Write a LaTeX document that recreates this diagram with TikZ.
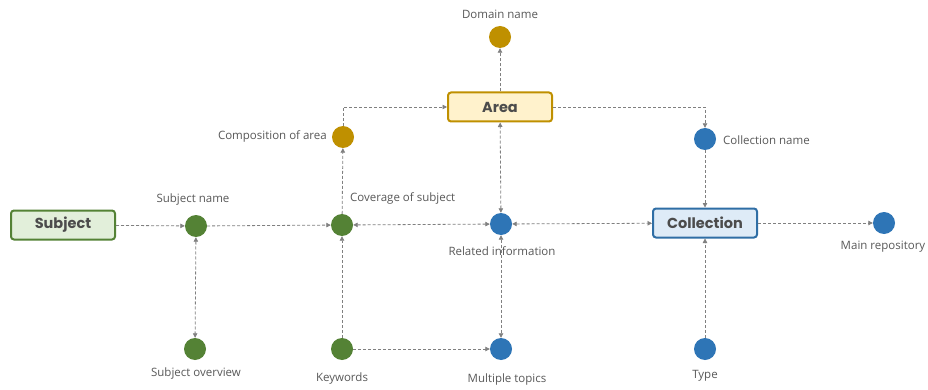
\documentclass[tikz,border=0pt]{standalone}
\usepackage{fontspec}
\setmainfont{Open Sans}
\newfontfamily\boxfont{Poppins}
\usetikzlibrary{arrows.meta}
\definecolor{lblgray}{HTML}{595959}
\definecolor{linegray}{HTML}{808080}
\definecolor{dgreen}{HTML}{548235}
\definecolor{lgreen}{HTML}{E2EFDA}
\definecolor{gold}{HTML}{BF9000}
\definecolor{lgold}{HTML}{FFF2CC}
\definecolor{dblue}{HTML}{2E75B6}
\definecolor{bblue}{HTML}{2F6EA5}
\definecolor{lblue}{HTML}{DEEBF7}
\tikzset{
  dot/.style={circle,minimum size=22pt,inner sep=0pt,draw=none},
  gdot/.style={dot,fill=dgreen},
  ydot/.style={dot,fill=gold},
  bdot/.style={dot,fill=dblue},
  lbl/.style={font=\fontsize{11.5}{13}\selectfont,text=lblgray,inner sep=0pt},
  bigbox/.style={rounded corners=3pt,line width=2pt,minimum height=29pt,minimum width=104pt,font=\boxfont\bfseries\fontsize{14.5}{16}\selectfont,text=black!70},
  conn/.style={draw=linegray,line width=0.8pt,dash pattern=on 3pt off 2pt,-{Triangle[length=4.5pt,width=4.5pt]}},
  conn2/.style={conn,{Triangle[length=4.5pt,width=4.5pt]}-{Triangle[length=4.5pt,width=4.5pt]}}
}
\begin{document}
\begin{tikzpicture}[x=1pt,y=-1pt]
\useasboundingbox[fill=white] (0,0) rectangle (928,390);
% boxes
\node[bigbox,draw=dgreen,fill=lgreen] (subject) at (63,225) {Subject};
\node[bigbox,draw=gold,fill=lgold] (area) at (500,107) {Area};
\node[bigbox,draw=bblue,fill=lblue] (collection) at (705,223) {Collection};
% dots
\node[gdot] (sname) at (196,226) {};
\node[gdot] (soverview) at (195,349) {};
\node[gdot] (coverage) at (342,225) {};
\node[gdot] (keywords) at (342,349) {};
\node[ydot] (composition) at (343,137) {};
\node[ydot] (domain) at (500,37) {};
\node[bdot] (related) at (501,224) {};
\node[bdot] (topics) at (501,349) {};
\node[bdot] (cname) at (705,139) {};
\node[bdot] (mainrepo) at (884,223) {};
\node[bdot] (type) at (705,349) {};
% labels
\node[lbl] (l1) at (193,200) {Subject name};
\node[lbl] (l2) at (196,374) {Subject overview};
\node[lbl,anchor=west] (l3) at (350,198) {Coverage of subject};
\node[lbl] (l4) at (342,379) {Keywords};
\node[lbl,anchor=east] (l5) at (327,136) {Composition of area};
\node[lbl] (l6) at (500,14) {Domain name};
\node[lbl] (l7) at (502,251) {Related information};
\node[lbl] (l8) at (507,380) {Multiple topics};
\node[lbl,anchor=west] (l9) at (723,140) {Collection name};
\node[lbl] (l10) at (883,247) {Main repository};
\node[lbl] (l11) at (705,376) {Type};
% connectors
\draw[conn] (subject) -- (sname);
\draw[conn] (sname) -- (coverage);
\draw[conn2] (sname) -- (soverview);
\draw[conn] (keywords) -- (coverage);
\draw[conn] (keywords) -- (topics);
\draw[conn] (coverage) -- (composition);
\draw[conn] (composition.north) |- (area.west);
\draw[conn] (area) -- (domain);
\draw[conn2] (coverage) -- (related);
\draw[conn2] (related) -- (area);
\draw[conn2] (related) -- (topics);
\draw[conn2] (related) -- (collection);
\draw[conn] (area.east) -| (cname.north);
\draw[conn] (cname) -- (collection);
\draw[conn] (type) -- (collection);
\draw[conn] (collection) -- (mainrepo);
\end{tikzpicture}
\end{document}
